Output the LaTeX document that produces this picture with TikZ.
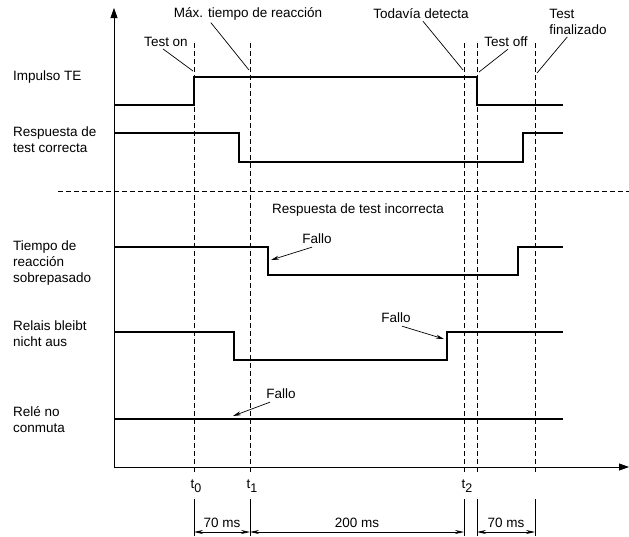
\documentclass[tikz,border=0pt]{standalone}
\usepackage{fontspec}
\setmainfont{Liberation Sans}
\usetikzlibrary{arrows.meta,calc}
\newcommand{\tsub}[1]{t\raisebox{-0.55ex}{\fontsize{12.5}{12.5}\selectfont #1}}

\begin{document}
\begin{tikzpicture}
      [x = 1pt, y = -1pt,
      font = \fontsize{13.5}{16}\selectfont,
      axis/.style = {line width = 0.8pt, -{Triangle[length = 10pt, width = 7pt]}},
      signal/.style = {line width = 2.2pt},
      guide/.style = {line width = 0.7pt, dash pattern = on 5pt off 3pt},
      leader/.style = {line width = 0.7pt},
      fault/.style = {line width = 0.7pt, -{Stealth[length = 8pt, width = 4pt]}},
      dim/.style = {line width = 0.7pt, {Stealth[length = 9pt, width = 4pt]}-{Stealth[length = 9pt, width = 4pt]}},
      tag/.style = {align = left, anchor = west, inner sep = 0pt},
      note/.style = {align = left, inner sep = 0pt}]

      \useasboundingbox (0, 0) rectangle (629, 536);

      % axes
      \coordinate (origin) at (114, 467);
      \coordinate (ytop) at (114, 8);
      \coordinate (xend) at (629, 467);
      \draw[axis] (origin) -- (ytop);
      \draw[axis] (origin) -- (xend);

      % time marks
      \foreach \name/\x in {t0/194, t1/250, t2/464, toff/477, tend/535} {
         \coordinate (\name-top) at (\x, 43);
         \coordinate (\name-bot) at (\x, 474);
         \draw[guide] (\name-top) -- (\name-bot);
      }
      \draw[guide] (58, 191) -- (629, 191);

      % signal labels
      \node[tag] (impulso) at (13, 77) {Impulso TE};
      \node[tag] (correcta) at (13, 140) {Respuesta de\\test correcta};
      \node[tag] (tiempo) at (13, 263) {Tiempo de\\reacción\\sobrepasado};
      \node[tag] (relais) at (13, 334) {Relais bleibt\\nicht aus};
      \node[tag] (rele) at (13, 420) {Relé no\\conmuta};

      % signals
      \draw[signal] (114, 105) -- (194, 105) -- (194, 77) -- (477, 77) -- (477, 105) -- (563, 105);
      \draw[signal] (114, 133) -- (239, 133) -- (239, 162) -- (523, 162) -- (523, 133) -- (563, 133);
      \draw[signal] (114, 247) -- (268, 247) -- (268, 275) -- (518, 275) -- (518, 247) -- (563, 247);
      \draw[signal] (114, 332) -- (234, 332) -- (234, 360) -- (447, 360) -- (447, 332) -- (563, 332);
      \draw[signal] (114, 419) -- (563, 419);

      % event labels
      \node[note] (maxtime) at (248, 14) {Máx. tiempo de reacción};
      \node[note] (todavia) at (421, 14) {Todavía detecta};
      \node[note] (teston) at (166, 42) {Test on};
      \node[note] (testoff) at (506, 42) {Test off};
      \node[note] (testfin) at (578, 22) {Test\\finalizado};
      \node[note] (incorrecta) at (358, 210) {Respuesta de test incorrecta};

      \coordinate (teston-end) at (193, 71);
      \coordinate (maxtime-end) at (249, 70);
      \coordinate (todavia-end) at (463, 70);
      \coordinate (testoff-end) at (479, 72);
      \coordinate (testfin-end) at (537, 73);
      \draw[leader] ($(teston.south)+(-3, 2)$) -- (teston-end);
      \draw[leader] ($(maxtime.south west)!0.25!(maxtime.south east)+(0, 2)$) -- (maxtime-end);
      \draw[leader] ($(todavia.south)+(2, 2)$) -- (todavia-end);
      \draw[leader] ($(testoff.south)+(2, 2)$) -- (testoff-end);
      \draw[leader] ($(testfin.south west)+(18, 2)$) -- (testfin-end);

      % faults
      \node[note] (fallo1) at (317, 239) {Fallo};
      \node[note] (fallo2) at (396, 318) {Fallo};
      \node[note] (fallo3) at (281, 394) {Fallo};
      \coordinate (fallo1-end) at (271, 260);
      \coordinate (fallo2-end) at (444, 339);
      \coordinate (fallo3-end) at (233, 416);
      \draw[fault] ($(fallo1.south)+(-5, 3)$) -- (fallo1-end);
      \draw[fault] ($(fallo2.south)+(6, 3)$) -- (fallo2-end);
      \draw[fault] ($(fallo3.south)+(-11, 3)$) -- (fallo3-end);

      % times
      \node (lt0) at (196, 486) {\tsub{0}};
      \node (lt1) at (252, 486) {\tsub{1}};
      \node (lt2) at (467, 486) {\tsub{2}};

      % dimensions
      \foreach \name/\x in {t0/194, t1/250, t2/464, toff/477, tend/535} {
         \coordinate (\name-ext) at (\x, 499);
         \coordinate (\name-dim) at (\x, 532);
         \draw[leader] (\name-ext) -- ($(\name-dim)+(0, 4)$);
      }
      \draw[dim] (t0-dim) -- (t1-dim) node[midway, above = 1pt] (d70a) {70 ms};
      \draw[dim] (t1-dim) -- (t2-dim) node[midway, above = 1pt] (d200) {200 ms};
      \draw[dim] (toff-dim) -- (tend-dim) node[midway, above = 1pt] (d70b) {70 ms};

   \end{tikzpicture}
\end{document}
